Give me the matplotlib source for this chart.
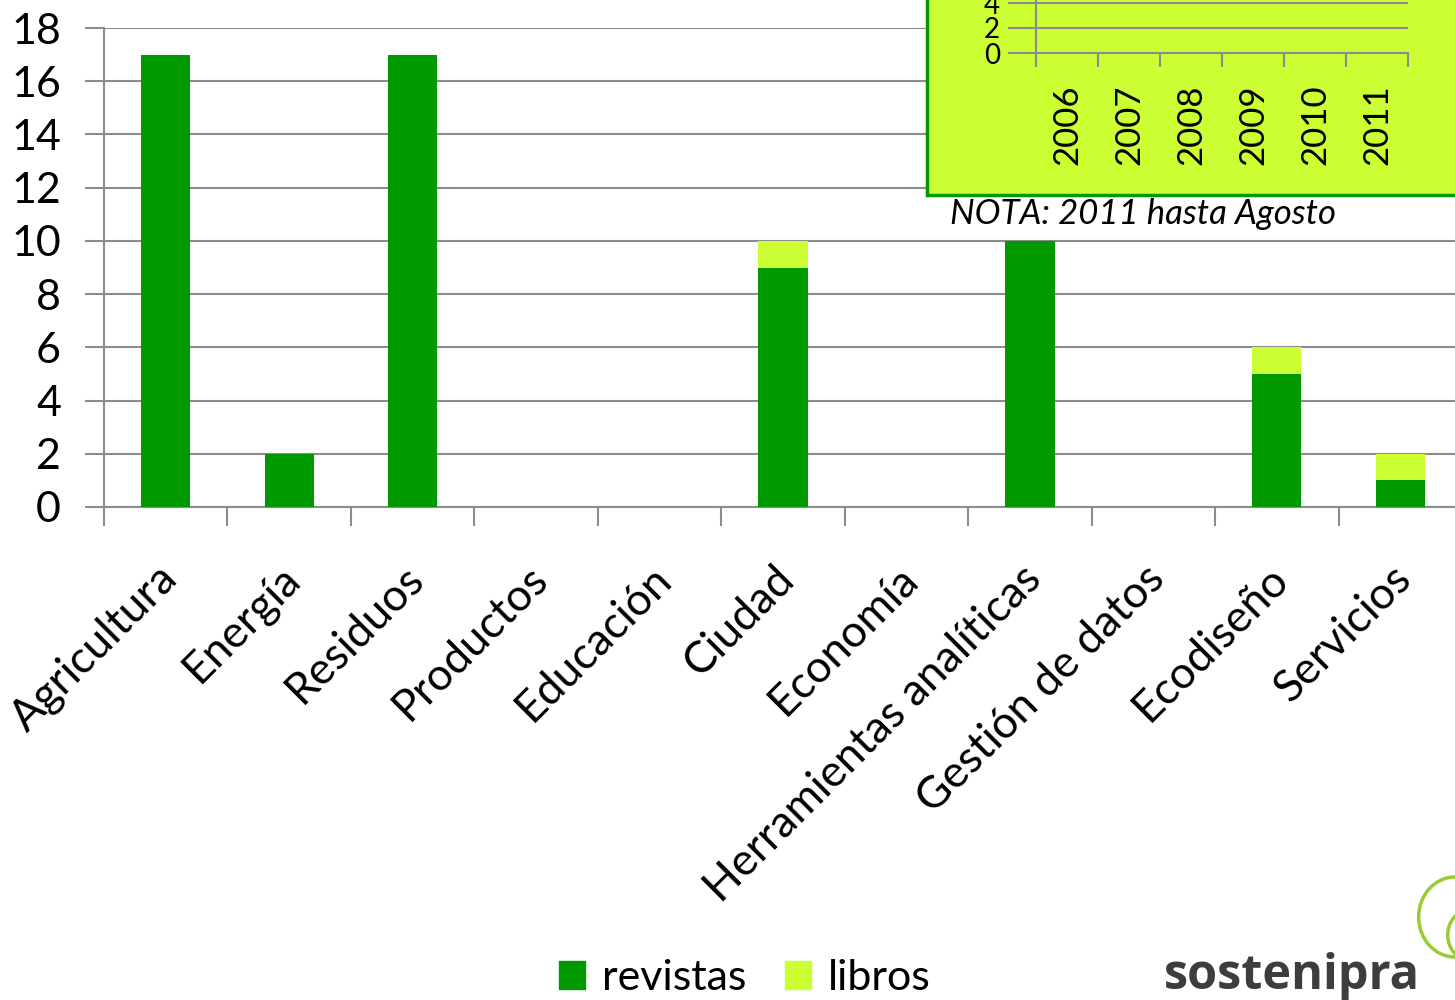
import matplotlib
matplotlib.use("Agg")
import matplotlib.pyplot as plt
from matplotlib.patches import Rectangle, Patch, Arc

# datos
categorias = ["Agricultura", "Energía", "Residuos", "Productos", "Educación", "Ciudad",
              "Economía", "Herramientas analíticas", "Gestión de datos", "Ecodiseño", "Servicios"]
revistas = [17, 2, 17, 0, 0, 9, 0, 10, 0, 5, 1]
libros = [0, 0, 0, 0, 0, 1, 0, 0, 0, 1, 1]
anios = ["2006", "2007", "2008", "2009", "2010", "2011"]
ticks_y = [0, 2, 4, 6, 8, 10, 12, 14, 16, 18]
ticks_inset = [0, 2, 4]

verde = "#009900"
amarillo = "#CCFF33"
gris = "#8c8c8c"

plt.rcParams["font.family"] = ["Lato", "DejaVu Sans"]

fig = plt.figure(figsize=(14.55, 10), dpi=100)

# grafico principal
ax = fig.add_axes([0.0715, 0.493, 0.9333, 0.479], zorder=0)
x = list(range(len(categorias)))
ax.bar(x, revistas, width=0.4, color=verde, zorder=3)
ax.bar(x, libros, width=0.4, bottom=revistas, color=amarillo, zorder=3)
ax.set_xlim(-0.5, len(categorias) - 0.5)
ax.set_ylim(0, 18)
ax.set_yticks(ticks_y)
ax.set_yticklabels([str(t) for t in ticks_y], fontsize=31)
ax.yaxis.grid(True, color=gris, linewidth=1.5, zorder=0)
ax.set_xticks([i - 0.5 for i in range(len(categorias) + 1)])
ax.set_xticklabels([])
ax.tick_params(axis="y", length=14, width=1.5, color=gris, pad=17)
ax.tick_params(axis="x", length=14, width=1.5, color=gris, direction="out")
for s in ["top", "right"]:
    ax.spines[s].set_visible(False)
for s in ["left", "bottom"]:
    ax.spines[s].set_color(gris)
    ax.spines[s].set_linewidth(1.5)
for i, c in enumerate(categorias):
    ax.text(i + 0.04, -2.45, c, rotation=45, rotation_mode="anchor", ha="right", va="center",
            fontsize=32, clip_on=False)

# cuadro del grafico pequeño
fig.patches.append(Rectangle((0.637, 0.805), 0.4, 0.3, transform=fig.transFigure,
                             facecolor=amarillo, edgecolor=verde, linewidth=2.5, zorder=0.5))
axi = fig.add_axes([0.712, 0.947, 0.256, 0.15], zorder=1)
axi.set_facecolor("none")
axi.set_xlim(-0.5, len(anios) - 0.5)
axi.set_ylim(0, 12)
axi.set_yticks(ticks_inset)
axi.set_yticklabels([str(t) for t in ticks_inset], fontsize=20)
axi.yaxis.grid(True, color=gris, linewidth=1.5)
axi.set_xticks([i - 0.5 for i in range(len(anios) + 1)])
axi.set_xticklabels([])
axi.tick_params(axis="y", length=20, width=1.5, color=gris, pad=6)
axi.tick_params(axis="x", length=10, width=1.5, color=gris)
for s in ["top", "right"]:
    axi.spines[s].set_visible(False)
for s in ["left", "bottom"]:
    axi.spines[s].set_color(gris)
    axi.spines[s].set_linewidth(1.5)
for i, a in enumerate(anios):
    axi.text(i, -2.5, a, rotation=90, ha="center", va="top", fontsize=25, clip_on=False)

fig.text(0.653, 0.786, "NOTA: 2011 hasta Agosto", fontsize=25, style="italic", va="center")

# leyenda
handles = [Patch(color=verde, label="revistas"), Patch(color=amarillo, label="libros")]
fig.legend(handles=handles, loc="lower center", bbox_to_anchor=(0.512, -0.036), ncol=2,
           frameon=False, fontsize=31, handlelength=0.6, handleheight=0.6,
           handletextpad=0.4, columnspacing=0.9)

# logo
fig.text(0.8, 0.011, "sostenipra", fontsize=35, fontweight="bold", color="#3d3d3d",
         family=["Open Sans", "DejaVu Sans"])
hoja1 = Arc((1.0, 0.083), 0.05, 0.08, angle=0, theta1=90, theta2=270,
            transform=fig.transFigure, color="#99cc33", linewidth=2.5)
hoja2 = Arc((1.01, 0.065), 0.03, 0.05, angle=0, theta1=100, theta2=260,
            transform=fig.transFigure, color="#99cc33", linewidth=2.5)
fig.patches.append(hoja1)
fig.patches.append(hoja2)

fig.savefig("out.png", dpi=100)
